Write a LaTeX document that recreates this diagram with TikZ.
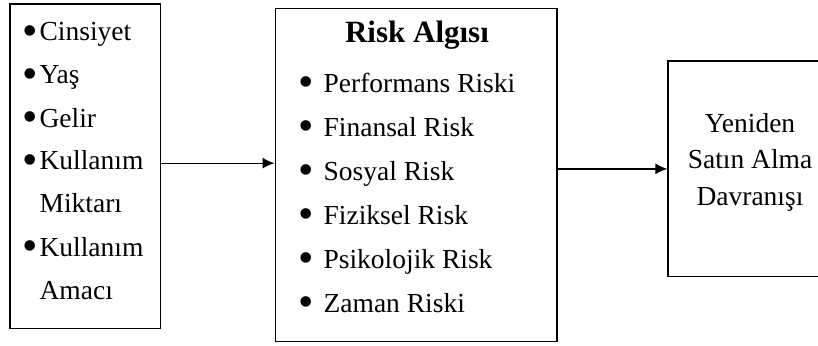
\documentclass[tikz,border=0pt]{standalone}
\usepackage{fontspec}
\setmainfont{Liberation Serif}
\usetikzlibrary{shapes,arrows,arrows.meta,positioning}
\tikzstyle{kutu} = [rectangle, draw=black, line width=1.3pt, inner sep=0pt]
\tikzstyle{yazi} = [inner sep=0pt, font=\fontsize{27.5}{43}\selectfont]
\tikzstyle{arrow} = [line width=1.3pt, -{Latex[length=12pt,width=11pt]}]
\newcommand{\madde}{\raisebox{-4.5pt}{\scalebox{1.6}{\textbullet}}}

\begin{document}
\begin{tikzpicture}[x=1pt, y=-1pt]
    \useasboundingbox (0,0) rectangle (818,345);

        % kutular
        \node (profil) [kutu, minimum width=150.7pt, minimum height=324.3pt] at (85.35,166.15) {};
        \node (risk) [kutu, minimum width=281.7pt, minimum height=333.4pt] at (416,175) {};
        \node (davranis) [kutu, minimum width=164pt, minimum height=215.7pt] at (750,168.85) {};

        % kutu yazilari
        \node (profilyazi) [yazi, anchor=base west] at (22,41) {\begin{tabular}[t]{@{}l@{}}
            \madde\hspace{2pt}Cinsiyet\\
            \madde\hspace{2pt}Yaş\\
            \madde\hspace{2pt}Gelir\\
            \madde\hspace{2pt}Kullanım\\
            \phantom{\madde}\hspace{2pt}Miktarı\\
            \madde\hspace{2pt}Kullanım\\
            \phantom{\madde}\hspace{2pt}Amacı
        \end{tabular}};

        \node (baslik) [inner sep=0pt, anchor=base, font=\fontsize{31}{37}\selectfont\bfseries] at (417,43) {Risk Algısı};
        \node (riskyazi) [yazi, anchor=base west, font=\fontsize{27.5}{44}\selectfont] at (298,92) {\begin{tabular}[t]{@{}l@{}}
            \madde\hspace{10pt}Performans Riski\\
            \madde\hspace{10pt}Finansal Risk\\
            \madde\hspace{10pt}Sosyal Risk\\
            \madde\hspace{10pt}Fiziksel Risk\\
            \madde\hspace{10pt}Psikolojik Risk\\
            \madde\hspace{10pt}Zaman Riski
        \end{tabular}};

        \node (davranisyazi) [yazi, anchor=base, font=\fontsize{27.5}{36.5}\selectfont] at (750,132) {\begin{tabular}[t]{@{}c@{}}
            Yeniden\\ Satın Alma\\ Davranışı
        \end{tabular}};

        % oklar
        \draw [arrow] ([yshift=3pt]profil.east) -- ([yshift=3pt]profil.east -| risk.west);
        \draw [arrow] (davranis.west -| risk.east) -- (davranis.west);

    \end{tikzpicture}
\end{document}
